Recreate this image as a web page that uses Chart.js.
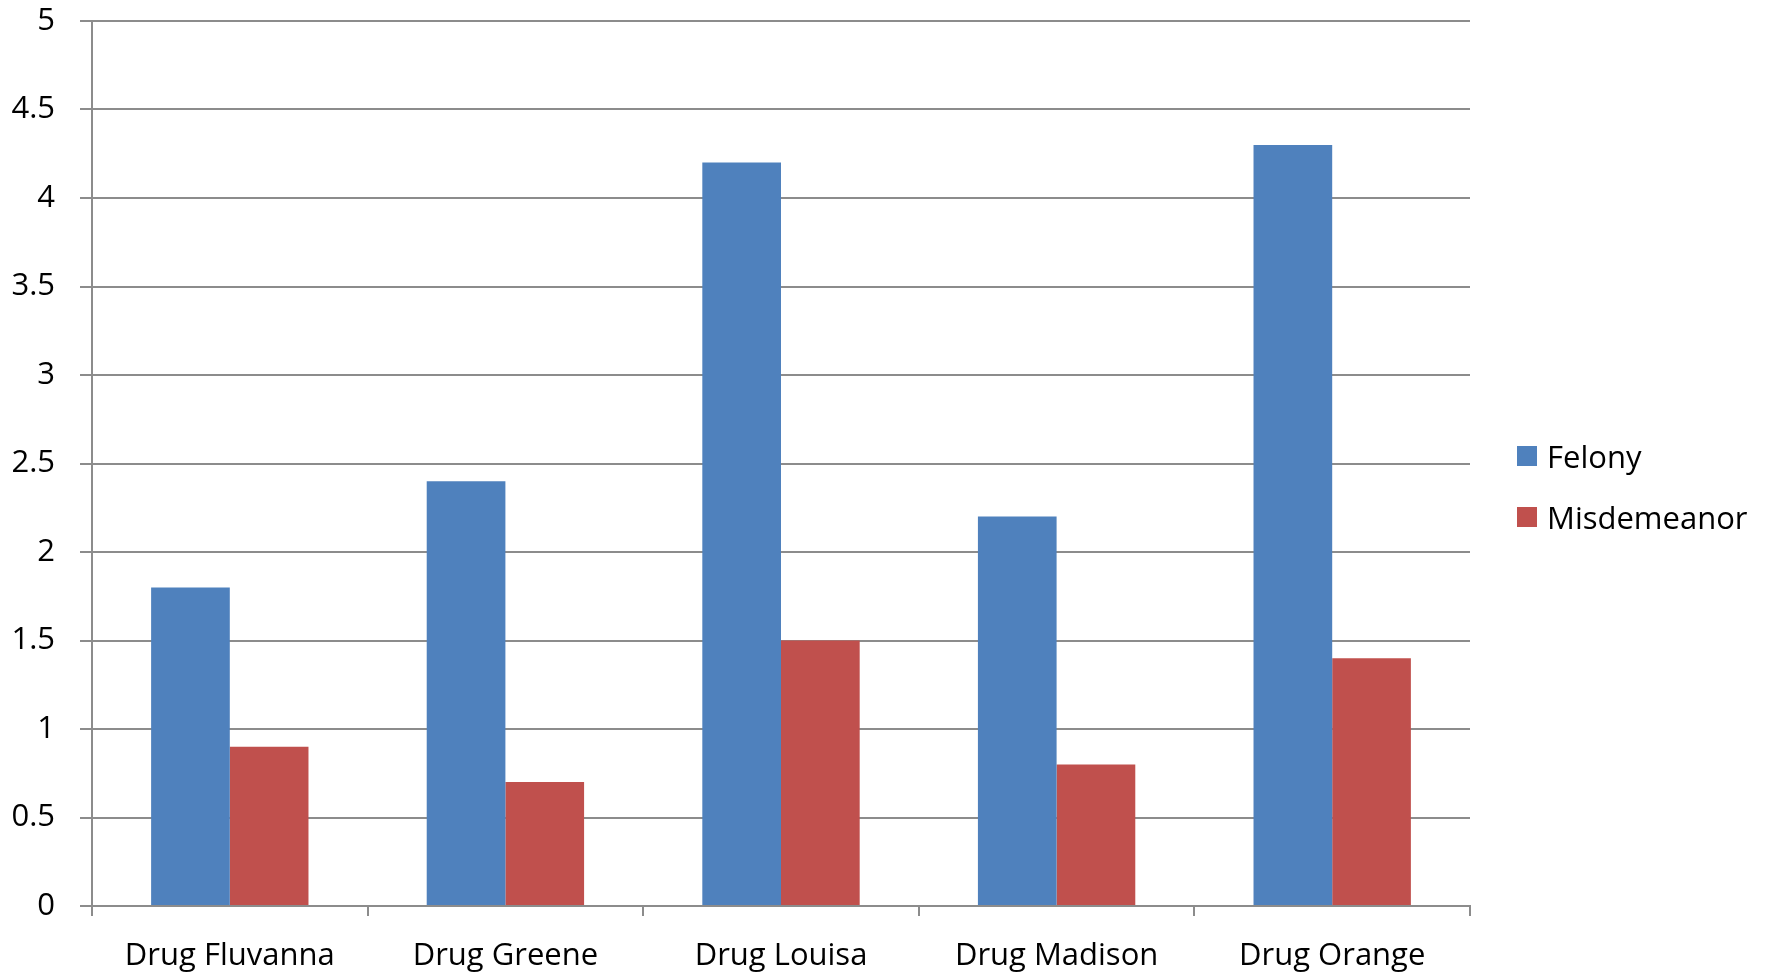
<!DOCTYPE html>
<html>
<head>
<meta charset="utf-8">
<script src="https://cdn.jsdelivr.net/npm/chart.js@4/dist/chart.umd.min.js"></script>
<style>
  html, body { margin: 0; padding: 0; background: #fff; }
  #wrap { position: relative; width: 1777px; height: 972px; }
  #legend { position: absolute; left: 1517px; top: 435px; font-family: 'Open Sans', 'Liberation Sans', sans-serif; font-size: 31px; color: #000; }
  #legend .item { display: flex; align-items: center; height: 42px; margin-bottom: 19px; white-space: nowrap; }
  #legend .box { width: 20px; height: 20px; margin-right: 10px; }
</style>
</head>
<body>
<div id="wrap">
  <canvas id="chart" width="1777" height="972"></canvas>
  <div id="legend"></div>
</div>
<script>
const categories = ['Drug Fluvanna', 'Drug Greene', 'Drug Louisa', 'Drug Madison', 'Drug Orange'];
const felony = [1.8, 2.4, 4.2, 2.2, 4.3];
const misdemeanor = [0.9, 0.7, 1.5, 0.8, 1.4];
const yTicks = [0, 0.5, 1, 1.5, 2, 2.5, 3, 3.5, 4, 4.5, 5];

const gridColor = '#8c8c8c';
const fontFamily = "'Open Sans', 'Liberation Sans', sans-serif";
const fontSize = 31;

const ctx = document.getElementById('chart').getContext('2d');
const chart = new Chart(ctx, {
    type: 'bar',
    data: {
        labels: categories,
        datasets: [
            { label: 'Felony', data: felony, backgroundColor: '#4f81bd' },
            { label: 'Misdemeanor', data: misdemeanor, backgroundColor: '#c0504d' }
        ]
    },
    options: {
        responsive: false,
        animation: false,
        layout: { padding: { top: 21, right: 307, left: 0, bottom: 0 } },
        datasets: { bar: { categoryPercentage: 0.571, barPercentage: 1.0 } },
        plugins: {
            tooltip: { enabled: false },
            legend: { display: false }
        },
        scales: {
            x: {
                afterFit: function (scale) { scale.height = 66; scale.paddingLeft = 0; scale.paddingRight = 0; },
                grid: { display: true, drawOnChartArea: false, offset: true, color: gridColor, tickLength: 10, lineWidth: 2 },
                border: { color: gridColor, width: 2 },
                ticks: { color: '#000', font: { family: fontFamily, size: fontSize }, padding: 22, maxRotation: 0 }
            },
            y: {
                min: yTicks[0],
                max: yTicks[yTicks.length - 1],
                afterFit: function (scale) {
                    scale.width = 92;
                    scale.paddingTop = 0;
                    scale.paddingBottom = 0;
                },
                afterBuildTicks: function (scale) { scale.ticks = yTicks.map(v => ({ value: v })); },
                ticks: {
                    color: '#000',
                    font: { family: fontFamily, size: fontSize },
                    padding: 25,
                    callback: v => String(v)
                },
                grid: { color: gridColor, tickLength: 12, lineWidth: 2 },
                border: { color: gridColor, width: 2 }
            }
        }
    }
});

// legend built from the datasets
const legendEl = document.getElementById('legend');
chart.data.datasets.forEach(ds => {
    const item = document.createElement('div');
    item.className = 'item';
    const box = document.createElement('span');
    box.className = 'box';
    box.style.background = ds.backgroundColor;
    const txt = document.createElement('span');
    txt.textContent = ds.label;
    item.appendChild(box);
    item.appendChild(txt);
    legendEl.appendChild(item);
});
</script>
</body>
</html>
